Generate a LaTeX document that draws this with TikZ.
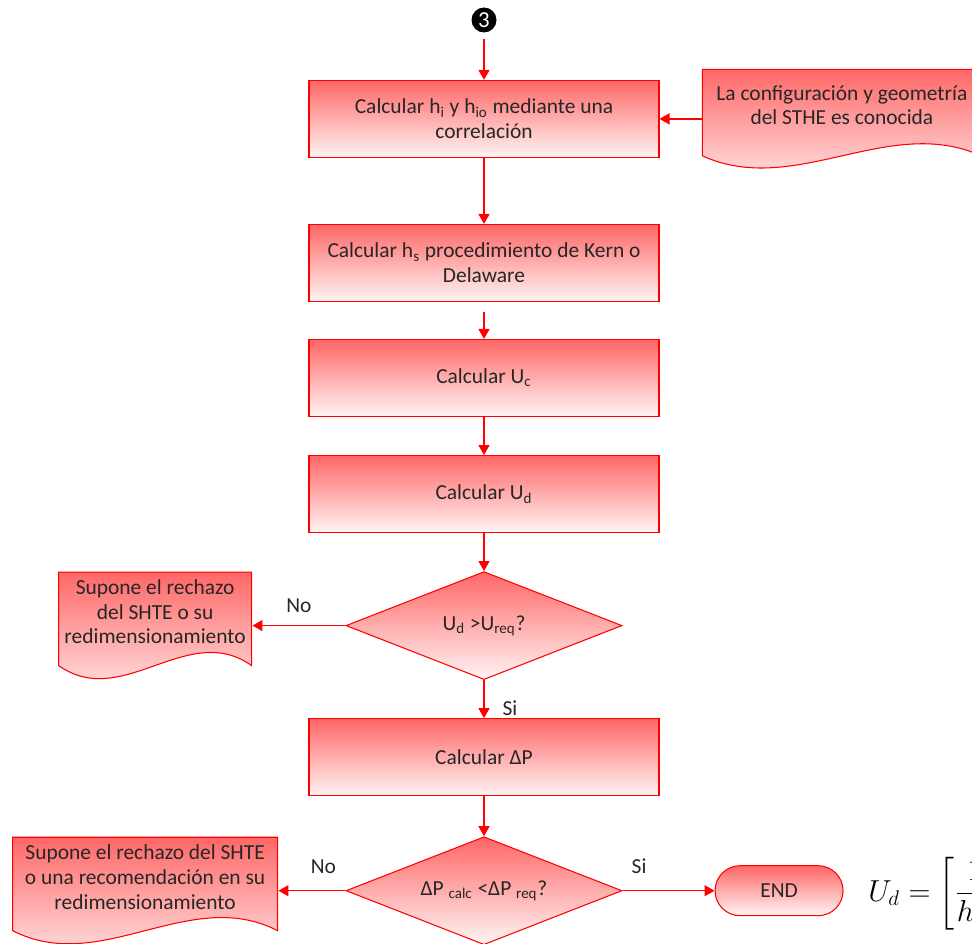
\documentclass[tikz,border=0pt]{standalone}
\usepackage{amsmath}
\usepackage{fontspec}
\setmainfont{Carlito}
\usetikzlibrary{arrows.meta,positioning,shapes.geometric,calc}
\tikzset{
  block/.style={draw=red, line width=0.6pt, top color=red!60, bottom color=red!4, align=center, minimum height=15.4mm, minimum width=70mm, text=black!85, font=\fontsize{12.2}{14}\selectfont},
  decision/.style={diamond, aspect=2.55, draw=red, line width=0.6pt, top color=red!60, bottom color=red!4, align=center, minimum height=21.6mm, minimum width=55.2mm, inner sep=0pt, text=black!85, font=\fontsize{12.2}{14}\selectfont},
  terminal/.style={draw=red, line width=0.6pt, top color=red!60, bottom color=red!4, rounded corners=5mm, minimum height=10mm, minimum width=25.6mm, text=black!85, font=\fontsize{12.2}{14}\selectfont},
  docbox/.style={fill=white, align=center, inner xsep=1mm, inner ysep=0.6mm, text depth=5.5mm, text=black!85, font=\fontsize{12.2}{14}\selectfont,
    path picture={
      \path[draw=red, line width=0.6pt, top color=red!60, bottom color=red!4]
        let \p1=(path picture bounding box.south west), \p2=(path picture bounding box.north east),
            \n1={\y2-\y1}, \n2={\x2-\x1} in
        (\x1+0.3pt,\y2-0.3pt) -- (\x2-0.3pt,\y2-0.3pt) -- (\x2-0.3pt,\y1+0.13*\n1)
        .. controls (\x1+0.667*\n2,\y1+0.55*\n1) and (\x1+0.333*\n2,\y1-0.29*\n1) .. (\x1+0.3pt,\y1+0.13*\n1) -- cycle;
    }},
  marker/.style={circle, fill=black, text=white, minimum size=5mm, inner sep=0pt, font=\fontsize{13}{13}\selectfont},
  lbl/.style={text=black!85, font=\fontsize{12.2}{14}\selectfont},
  flow/.style={-{Triangle[length=2mm, width=2.2mm]}, draw=red, line width=0.85pt}
}
\begin{document}
\begin{tikzpicture}[node distance=8mm and 18.4mm]
\useasboundingbox (0,0) rectangle (194.4mm,-188.8mm);
\clip (0,0) rectangle (194.4mm,-188.8mm);
\node[marker] (three) at (96.8mm,-4mm) {3};
\node[block, below=9.4mm of three] (hcorr) {Calcular h\textsubscript{i} y h\textsubscript{io} mediante una\\correlación};
\node[docbox, minimum width=56mm, minimum height=20mm, right=8.4mm of hcorr] (known) {La configuración y geometría\\del STHE es conocida};
\node[block, below=13.2mm of hcorr] (hshell) {Calcular h\textsubscript{s} procedimiento de Kern o\\Delaware};
\node[block, below=7.4mm of hshell] (uclean) {Calcular U\textsubscript{c}};
\node[block, below=7.6mm of uclean] (udirty) {Calcular U\textsubscript{d}};
\node[decision, below=7.6mm of udirty] (ucheck) {U\textsubscript{d} >U\textsubscript{req}?};
\node[docbox, minimum width=38.8mm, minimum height=21.6mm, left=18.6mm of ucheck] (reject1) {Supone el rechazo\\del SHTE o su\\redimensionamiento};
\node[block, below=7.6mm of ucheck] (dpcalc) {Calcular ΔP};
\node[decision, below=8mm of dpcalc] (dpcheck) {ΔP \textsubscript{calc} <ΔP \textsubscript{req}?};
\node[docbox, minimum width=53.2mm, minimum height=21.6mm, left=13.4mm of dpcheck] (reject2) {Supone el rechazo del SHTE\\o una recomendación en su\\redimensionamiento};
\node[terminal, right=18.4mm of dpcheck] (finish) {END};
\node[right=3.7mm of finish, font=\LARGE] (udeq) {$U_d = \left[\dfrac{1}{h_{io}}+\dfrac{1}{h_s}+R_d\right]^{-1}$};
\draw[flow, shorten <=1.2mm] (three) -- (hcorr);
\draw[flow] (known) -- (hcorr);
\draw[flow] (hcorr) -- (hshell);
\draw[flow, shorten <=2mm] (hshell) -- (uclean);
\draw[flow] (uclean) -- (udirty);
\draw[flow] (udirty) -- (ucheck);
\draw[flow] (ucheck) -- node[lbl, above=1.2mm] (no1) {No} (reject1);
\draw[flow] (ucheck) -- node[lbl, pos=0.73, right=2.4mm] (si1) {Si} (dpcalc);
\draw[flow] (dpcalc) -- (dpcheck);
\draw[flow] (dpcheck) -- node[lbl, pos=0.33, above=2mm] (no2) {No} (reject2);
\draw[flow] (dpcheck) -- node[lbl, pos=0.18, above=2mm] (si2) {Si} (finish);
\end{tikzpicture}
\end{document}
